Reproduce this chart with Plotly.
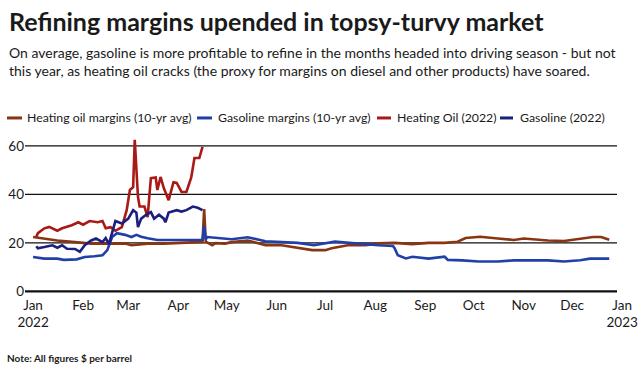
import plotly.graph_objects as go

# ---- data ----
ho_avg_dates = ["2022-01-01","2022-01-08","2022-01-16","2022-01-27","2022-02-06","2022-02-17","2022-02-27",
                "2022-03-03","2022-03-13","2022-03-23","2022-04-03","2022-04-16","2022-04-17","2022-04-18",
                "2022-04-22","2022-04-24","2022-04-30","2022-05-04","2022-05-14","2022-05-25","2022-06-04",
                "2022-06-14","2022-06-23","2022-07-01","2022-07-05","2022-07-15","2022-07-20","2022-07-26",
                "2022-08-03","2022-08-13","2022-08-24","2022-09-03","2022-09-13","2022-09-21","2022-09-26",
                "2022-10-05","2022-10-16","2022-10-26","2022-11-01","2022-11-16","2022-11-26","2022-12-06",
                "2022-12-14","2022-12-19","2022-12-24"]
ho_avg_vals = [22.4,21.7,21.0,20.3,19.7,19.7,19.7,
               19.0,19.7,19.7,20.0,20.4,34.0,20.5,
               19.0,19.9,19.7,20.3,21.0,19.0,19.0,
               17.8,17.0,17.0,17.8,19.0,19.0,19.0,
               19.8,20.0,19.5,20.0,20.0,20.5,22.0,
               22.5,21.8,21.2,21.8,21.0,20.8,21.8,
               22.4,22.4,21.3]

gas_avg_dates = ["2022-01-01","2022-01-08","2022-01-16","2022-01-20","2022-01-28","2022-02-02","2022-02-08",
                 "2022-02-13","2022-02-14","2022-02-16","2022-02-19","2022-02-22","2022-02-27","2022-03-03",
                 "2022-03-06","2022-03-09","2022-03-13","2022-03-19","2022-04-03","2022-04-13","2022-04-16",
                 "2022-04-17","2022-04-18","2022-04-19","2022-04-24","2022-05-04","2022-05-14","2022-05-25",
                 "2022-06-14","2022-06-24","2022-07-07","2022-07-15","2022-07-24","2022-08-03","2022-08-12",
                 "2022-08-13","2022-08-15","2022-08-20","2022-08-24","2022-09-03","2022-09-13","2022-09-15",
                 "2022-09-24","2022-10-04","2022-10-16","2022-10-26","2022-11-16","2022-11-26","2022-12-06",
                 "2022-12-12","2022-12-24"]
gas_avg_vals = [14.2,13.5,13.5,13.0,13.2,14.2,14.5,
                14.9,15.6,17.0,22.4,24.0,23.3,22.4,
                23.3,22.5,21.9,21.2,21.2,21.5,21.3,
                27.0,21.5,22.4,22.0,21.5,22.3,20.7,
                20.0,19.0,20.5,20.0,19.5,19.0,18.7,
                17.8,14.9,13.6,14.3,13.5,14.3,13.0,
                12.8,12.3,12.3,12.8,12.8,12.3,12.8,
                13.5,13.5]

ho_2022_dates = ["2022-01-03","2022-01-04","2022-01-08","2022-01-11","2022-01-16","2022-01-19","2022-01-25",
                 "2022-01-29","2022-02-01","2022-02-05","2022-02-10","2022-02-13","2022-02-15","2022-02-18",
                 "2022-02-21","2022-02-25","2022-02-28","2022-03-02","2022-03-04","2022-03-05","2022-03-07",
                 "2022-03-08","2022-03-11","2022-03-13","2022-03-14","2022-03-15","2022-03-18","2022-03-19",
                 "2022-03-21","2022-03-23","2022-03-26","2022-03-29","2022-03-31","2022-04-03","2022-04-06",
                 "2022-04-09","2022-04-11","2022-04-14","2022-04-16"]
ho_2022_vals = [22.5,24.0,26.0,26.6,25.0,26.0,27.3,
                28.5,27.5,29.0,28.5,29.0,26.0,26.5,
                25.0,26.5,33.5,41.8,43.0,62.5,39.0,
                35.0,35.0,30.6,39.0,46.7,47.0,41.8,
                47.2,42.6,37.6,45.0,44.7,41.0,41.0,
                47.0,55.0,55.0,59.6]

gas_2022_dates = ["2022-01-03","2022-01-04","2022-01-08","2022-01-13","2022-01-16","2022-01-19","2022-01-22",
                  "2022-01-27","2022-01-30","2022-02-02","2022-02-06","2022-02-09","2022-02-13","2022-02-15",
                  "2022-02-17","2022-02-19","2022-02-21","2022-02-25","2022-03-01","2022-03-04","2022-03-06",
                  "2022-03-07","2022-03-09","2022-03-12","2022-03-15","2022-03-17","2022-03-20","2022-03-23",
                  "2022-03-24","2022-03-26","2022-03-31","2022-04-03","2022-04-06","2022-04-10","2022-04-13",
                  "2022-04-16"]
gas_2022_vals = [18.6,17.8,18.3,19.0,18.0,19.0,17.6,
                 17.5,16.3,19.0,21.0,21.8,20.3,22.0,
                 19.5,24.0,29.0,28.0,30.0,33.5,32.5,
                 26.5,30.0,31.6,32.7,30.0,31.6,30.0,
                 28.5,32.5,33.5,32.9,33.5,35.0,34.5,
                 33.5]

series_names = ["Heating oil margins (10-yr avg)", "Gasoline margins (10-yr avg)",
                "Heating Oil (2022)", "Gasoline (2022)"]

x_tick_vals = ["2022-01-01","2022-02-01","2022-03-01","2022-04-01","2022-05-01","2022-06-01","2022-07-01",
               "2022-08-01","2022-09-01","2022-10-01","2022-11-01","2022-12-01","2023-01-01"]
x_tick_text = ["Jan<br>2022","Feb","Mar","Apr","May","Jun","Jul","Aug","Sep","Oct","Nov","Dec","Jan<br>2023"]
y_tick_vals = [0, 20, 40, 60]

# ---- styling ----
FONT = "Lato"
NARROW = "Liberation Sans Narrow, Lato"
TXT = "#1a1a1a"
colors = ["#8a3512", "#2040a8", "#a81a16", "#1c1f80"]

W, H = 640, 366
L, R, T, B = 25, 13, 135, 71.4
PW, PH = W - L - R, H - T - B

def px_x(px):
    return (px - L) / PW

def px_y(py):
    return (H - B - py) / PH

fig = go.Figure()
for xs, ys, nm, col in [(ho_avg_dates, ho_avg_vals, series_names[0], colors[0]),
                        (gas_avg_dates, gas_avg_vals, series_names[1], colors[1]),
                        (ho_2022_dates, ho_2022_vals, series_names[2], colors[2]),
                        (gas_2022_dates, gas_2022_vals, series_names[3], colors[3])]:
    fig.add_trace(go.Scatter(x=xs, y=ys, mode="lines", name=nm, showlegend=False,
                             line=dict(color=col, width=2.6)))

# horizontal grid lines
for v in y_tick_vals:
    fig.add_shape(type="line", xref="paper", yref="y", x0=0, x1=px_x(617), y0=v, y1=v,
                  line=dict(color="#111111", width=2.2 if v == 0 else 1.4), layer="below")

# legend row (swatch + label), positioned like the reference
legend_pos = [(7, 22, 25), (197, 212, 216), (377, 391, 395), (500, 513, 518)]
annotations = []
for (s0, s1, tx), nm, col in zip(legend_pos, series_names, colors):
    fig.add_shape(type="line", xref="paper", yref="paper", x0=px_x(s0), x1=px_x(s1),
                  y0=px_y(118), y1=px_y(118), line=dict(color=col, width=3))
    annotations.append(dict(text=nm, xref="paper", yref="paper", x=px_x(tx), y=px_y(118),
                            xanchor="left", yanchor="middle", showarrow=False,
                            font=dict(size=12.3, family=FONT, color=TXT)))

annotations += [
    dict(text="<b>Refining margins upended in topsy-turvy market</b>", xref="paper", yref="paper",
         x=px_x(7), y=px_y(21), xanchor="left", yanchor="middle", showarrow=False,
         font=dict(size=25, family=FONT, color=TXT)),
    dict(text="On average, gasoline is more profitable to refine in the months headed into driving season - but not"
              "<br>this year, as heating oil cracks (the proxy for margins on diesel and other products) have soared.",
         xref="paper", yref="paper", x=px_x(7), y=px_y(62), xanchor="left", yanchor="middle",
         align="left", showarrow=False, font=dict(size=14, family=FONT, color=TXT)),
    dict(text="<b>Note: All figures $ per barrel</b>", xref="paper", yref="paper",
         x=px_x(5), y=px_y(357), xanchor="left", yanchor="middle", showarrow=False,
         font=dict(size=10, family=NARROW, color=TXT)),
]

fig.update_layout(
    width=W, height=H,
    margin=dict(l=L, r=R, t=T, b=B, autoexpand=False),
    paper_bgcolor="white", plot_bgcolor="white",
    font=dict(family=FONT, color=TXT, size=13),
    showlegend=False,
    hovermode=False,
    xaxis=dict(range=["2021-12-27", "2023-01-04"], tickvals=x_tick_vals, ticktext=x_tick_text,
               showgrid=False, zeroline=False, showline=False, ticks="", automargin=False,
               tickfont=dict(size=13.5, family=NARROW, color=TXT)),
    yaxis=dict(range=[-1.5, 64.5], tickvals=y_tick_vals, showgrid=False, zeroline=False,
               showline=False, ticks="", automargin=False,
               tickfont=dict(size=13.5, family=NARROW, color=TXT)),
    annotations=annotations,
)

fig.write_html("out.html", config={"displayModeBar": False, "staticPlot": True},
               post_script="document.body.style.margin='0';document.body.style.overflow='hidden';"
                           "document.documentElement.style.overflow='hidden';")
